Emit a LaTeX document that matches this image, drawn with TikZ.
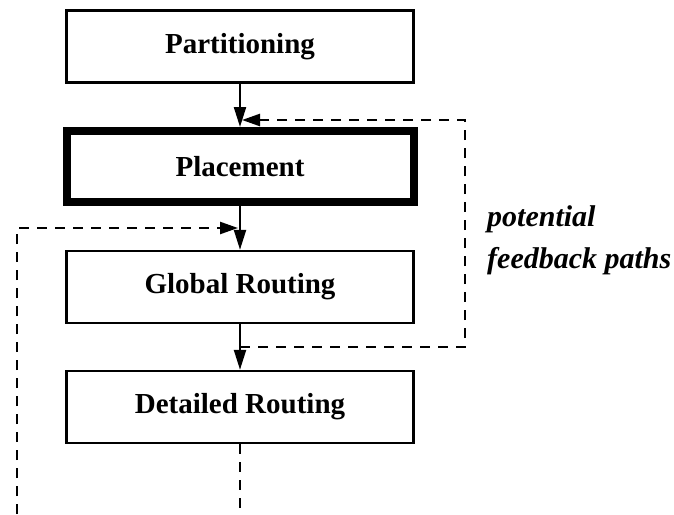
\documentclass[tikz,border=0pt]{standalone}
\usepackage{fontspec}
\setmainfont{Liberation Serif}
\usetikzlibrary{arrows.meta}
\begin{document}
\begin{tikzpicture}[x=1pt,y=-1pt,
  stage/.style={draw,line width=2.4pt,minimum width=347pt,minimum height=72pt,inner sep=0pt,
    font=\fontsize{29}{34}\selectfont\bfseries},
  keystage/.style={stage,line width=8pt,minimum height=71pt},
  flow/.style={-{Triangle[length=20pt,width=12pt]},line width=2.2pt},
  fb/.style={line width=2.4pt,dash pattern=on 10pt off 8pt},
  fbarrow/.style={fb,-{Triangle[length=18pt,width=12pt]}},
  note/.style={anchor=base west,inner sep=0pt,font=\fontsize{30}{34}\selectfont\bfseries\itshape}]
\useasboundingbox (0,0) rectangle (674,514);
\node[stage] (part) at (240,46.5) {Partitioning};
\node[keystage] (plc) at (240,166.5) {Placement};
\node[stage] (glb) at (240,287) {Global Routing};
\node[stage] (det) at (240,407) {Detailed Routing};
\draw[flow] (part) -- (plc);
\draw[flow] (plc) -- (glb);
\draw[flow] (glb) -- (det);
% feedback from global routing to placement
\coordinate (g1) at (240,347);
\coordinate (t1) at (242,120);
\draw[fbarrow] (g1) -- (465,347) -- (465,120) -- (t1);
% feedback from detailed routing to global routing
\coordinate (b1) at (240,514);
\coordinate (b2) at (17,514);
\coordinate (t2) at (238,228);
\draw[fb] (det.south) -- (b1);
\draw[fbarrow] (b2) |- (t2);
\node[note] (n1) at (487,226) {potential};
\node[note] (n2) at (487,268) {feedback paths};
\end{tikzpicture}
\end{document}
